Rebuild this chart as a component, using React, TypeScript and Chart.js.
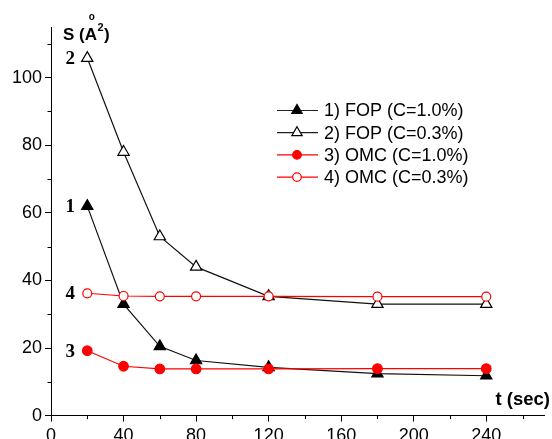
import React, { useEffect, useRef } from 'react';
import { Chart, registerables } from 'chart.js';

Chart.register(...registerables);

const times = [20, 40, 60, 80, 120, 180, 240];
const fop10 = [62.0, 33.0, 20.5, 16.3, 14.3, 12.4, 11.8];
const fop03 = [105.8, 78.0, 53.0, 44.0, 35.3, 33.0, 33.0];
const omc10 = [19.2, 14.6, 13.8, 13.8, 13.8, 13.9, 13.9];
const omc03 = [36.2, 35.4, 35.3, 35.3, 35.3, 35.2, 35.2];
const seriesNames = ['1) FOP (C=1.0%)', '2) FOP (C=0.3%)', '3) OMC (C=1.0%)', '4) OMC (C=0.3%)'];
const curveTags = ['1', '2', '3', '4'];
const xMajorTicks = [0, 40, 80, 120, 160, 200, 240];
const xMinorTicks = [20, 60, 100, 140, 180, 220, 260];
const yMajorTicks = [0, 20, 40, 60, 80, 100];
const yMinorTicks = [10, 30, 50, 70, 90, 110];

const SANS = '"Liberation Sans", Arial, sans-serif';
const SERIF = '"Liberation Serif", "Times New Roman", serif';

type Style = { color: string; shape: 'triangle' | 'circle'; filled: boolean; r: number };
const styles: Style[] = [
  { color: '#000000', shape: 'triangle', filled: true, r: 6.5 },
  { color: '#000000', shape: 'triangle', filled: false, r: 6.5 },
  { color: '#ff0000', shape: 'circle', filled: true, r: 4.8 },
  { color: '#ff0000', shape: 'circle', filled: false, r: 4.5 },
];

function drawMarker(ctx: CanvasRenderingContext2D, s: Style, x: number, y: number, r: number) {
  ctx.save();
  ctx.beginPath();
  if (s.shape === 'triangle') {
    let rad = 0;
    ctx.moveTo(x + Math.sin(rad) * r, y - Math.cos(rad) * r);
    rad += (2 * Math.PI) / 3;
    ctx.lineTo(x + Math.sin(rad) * r, y - Math.cos(rad) * r);
    rad += (2 * Math.PI) / 3;
    ctx.lineTo(x + Math.sin(rad) * r, y - Math.cos(rad) * r);
    ctx.closePath();
  } else {
    ctx.arc(x, y, r, 0, Math.PI * 2);
  }
  ctx.fillStyle = s.filled ? s.color : '#ffffff';
  ctx.fill();
  ctx.lineWidth = 1.2;
  ctx.strokeStyle = s.color;
  ctx.stroke();
  ctx.restore();
}

const decorPlugin = {
  id: 'decor',
  afterDraw(chart: any) {
    const ctx: CanvasRenderingContext2D = chart.ctx;
    const xs = chart.scales.x;
    const ys = chart.scales.y;
    const area = chart.chartArea;
    ctx.save();
    // minor ticks
    ctx.strokeStyle = '#000';
    ctx.lineWidth = 1;
    ctx.beginPath();
    xMinorTicks.forEach((v) => {
      const px = Math.round(xs.getPixelForValue(v)) + 0.5;
      ctx.moveTo(px, area.bottom);
      ctx.lineTo(px, area.bottom + 3.5);
    });
    yMinorTicks.forEach((v) => {
      const py = Math.round(ys.getPixelForValue(v)) + 0.5;
      ctx.moveTo(area.left, py);
      ctx.lineTo(area.left - 3.5, py);
    });
    ctx.stroke();

    // legend
    const lx0 = 277, lx1 = 318, mx = 297, tx = 324;
    seriesNames.forEach((name, i) => {
      const y = 110.5 + i * 22.2;
      const s = styles[i];
      ctx.strokeStyle = s.color === '#000000' ? '#222' : s.color;
      ctx.lineWidth = 1.2;
      ctx.beginPath();
      ctx.moveTo(lx0, y);
      ctx.lineTo(lx1, y);
      ctx.stroke();
      drawMarker(ctx, s, mx, y, s.shape === 'triangle' ? 6 : 4.3);
      ctx.fillStyle = '#000';
      ctx.font = `18px ${SANS}`;
      ctx.textAlign = 'left';
      ctx.textBaseline = 'middle';
      ctx.fillText(name, tx, y + 1);
    });

    // curve tags
    const series = [fop10, fop03, omc10, omc03];
    curveTags.forEach((tag, i) => {
      const px = xs.getPixelForValue(times[0]);
      const py = ys.getPixelForValue(series[i][0]);
      ctx.fillStyle = '#000';
      ctx.font = `bold 19px ${SERIF}`;
      ctx.textAlign = 'center';
      ctx.textBaseline = 'middle';
      ctx.fillText(tag, px - 17, py + 1);
    });

    // y title  S (Å²)
    ctx.fillStyle = '#000';
    ctx.textAlign = 'left';
    ctx.textBaseline = 'alphabetic';
    ctx.font = `bold 17px ${SANS}`;
    const t0 = 63, base = 39.5;
    const w1 = ctx.measureText('S (').width;
    const wA = ctx.measureText('A').width;
    ctx.fillText('S (A', t0, base);
    ctx.font = `bold 11px ${SANS}`;
    const w2 = ctx.measureText('2').width;
    ctx.fillText('2', t0 + w1 + wA + 0.5, base - 9);
    ctx.font = `bold 10px ${SANS}`;
    ctx.textAlign = 'center';
    ctx.fillText('o', t0 + w1 + wA / 2 + 1, base - 20);
    ctx.textAlign = 'left';
    ctx.font = `bold 17px ${SANS}`;
    ctx.fillText(')', t0 + w1 + wA + w2 + 1, base);

    // x title
    ctx.font = `bold 18.5px ${SANS}`;
    ctx.textAlign = 'right';
    ctx.fillText('t (sec)', 550, 405);
    ctx.restore();
  },
};

export default function App() {
  const ref = useRef<HTMLCanvasElement | null>(null);
  useEffect(() => {
    if (!ref.current) return;
    const mk = (i: number, values: number[], order: number) => {
      const s = styles[i];
      return {
        label: seriesNames[i],
        data: times.map((t, k) => ({ x: t, y: values[k] })),
        borderColor: s.color === '#000000' ? '#111' : s.color,
        backgroundColor: s.filled ? s.color : '#ffffff',
        pointBackgroundColor: s.filled ? s.color : '#ffffff',
        pointBorderColor: s.color,
        pointStyle: s.shape,
        pointRadius: s.r,
        pointBorderWidth: 1.2,
        borderWidth: 1.2,
        tension: 0,
        fill: false,
        showLine: true,
        order,
      };
    };
    const chart = new Chart(ref.current, {
      type: 'line',
      data: {
        datasets: [mk(0, fop10, 4), mk(1, fop03, 3), mk(2, omc10, 2), mk(3, omc03, 1)] as any,
      },
      options: {
        animation: false,
        responsive: false,
        maintainAspectRatio: false,
        layout: { padding: { top: 27, right: 0, left: 0, bottom: 0 } },
        plugins: { legend: { display: false }, tooltip: { enabled: false } },
        scales: {
          x: {
            type: 'linear',
            min: 0,
            max: 272,
            afterBuildTicks: (s: any) => {
              s.ticks = xMajorTicks.map((v) => ({ value: v }));
            },
            afterFit: (s: any) => {
              s.height = 23.4;
            },
            grid: { display: true, drawOnChartArea: false, drawTicks: true, tickLength: 6, tickColor: '#000', tickWidth: 1 },
            border: { display: true, color: '#000', width: 1 },
            ticks: {
              color: '#000',
              font: { family: SANS, size: 18 },
              padding: 4,
              maxRotation: 0,
              autoSkip: false,
              callback: (v: any) => String(v),
            },
          },
          y: {
            type: 'linear',
            min: 0,
            max: 115,
            afterBuildTicks: (s: any) => {
              s.ticks = yMajorTicks.map((v) => ({ value: v }));
            },
            afterFit: (s: any) => {
              s.width = 51;
            },
            grid: { display: true, drawOnChartArea: false, drawTicks: true, tickLength: 6, tickColor: '#000', tickWidth: 1 },
            border: { display: true, color: '#000', width: 1 },
            ticks: {
              color: '#000',
              font: { family: SANS, size: 18 },
              padding: 3,
              autoSkip: false,
              callback: (v: any) => String(v),
            },
          },
        },
      },
      plugins: [decorPlugin],
    });
    return () => chart.destroy();
  }, []);
  return (
    <div style={{ position: 'fixed', left: 0, top: 0, width: 552, height: 439, background: '#fff' }}>
      <canvas ref={ref} width={552} height={439} style={{ display: 'block' }} />
    </div>
  );
}
